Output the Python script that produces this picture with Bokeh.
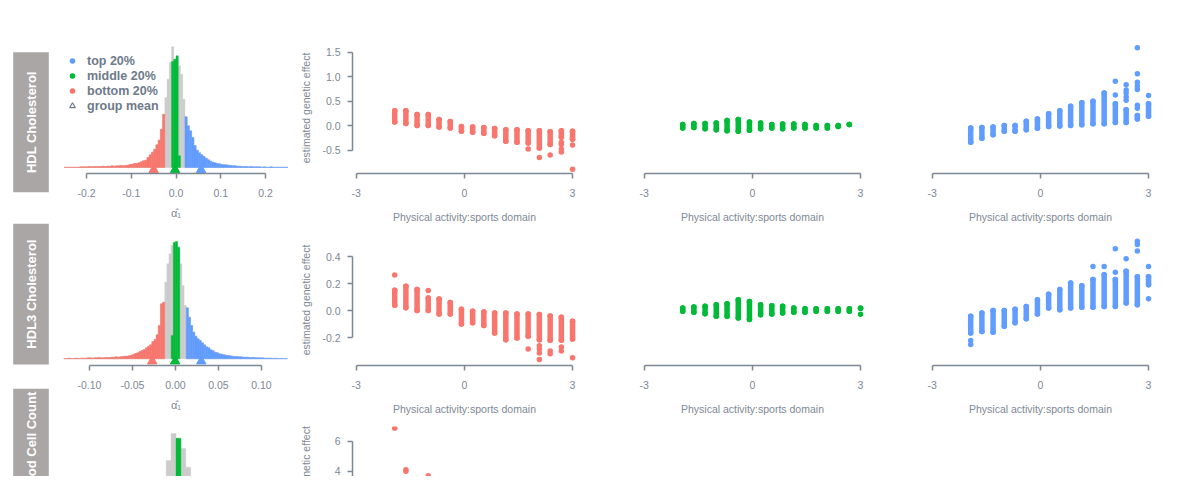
from math import pi
from bokeh.plotting import figure
from bokeh.layouts import row, column
from bokeh.models import Range1d, FixedTicker, LinearAxis, Legend, LegendItem
from bokeh.core.properties import value
from bokeh.embed import file_html
from bokeh.resources import INLINE

# ---------------- data ----------------
trait_labels = ["HDL Cholesterol", "HDL3 Cholesterol", "od Cell Count"]
group_labels = ["top 20%", "middle 20%", "bottom 20%", "group mean"]
hist_xlabel = "\u03b1\u0302\u2081"
scatter_xlabel = "Physical activity:sports domain"
scatter_ylabel = "estimated genetic effect"
scatter_ylabel_row3 = "netic effect"

hist1_ticks = [-0.2, -0.1, 0.0, 0.1, 0.2]
hist1_tick_labels = ["-0.2", "-0.1", "0.0", "0.1", "0.2"]
hist2_ticks = [-0.1, -0.05, 0.0, 0.05, 0.1]
hist2_tick_labels = ["-0.10", "-0.05", "0.00", "0.05", "0.10"]
x_ticks = [-3, 0, 3]
x_tick_labels = ["-3", "0", "3"]
y1_ticks = [-0.5, 0.0, 0.5, 1.0, 1.5]
y1_tick_labels = ["-0.5", "0.0", "0.5", "1.0", "1.5"]
y2_ticks = [-0.2, 0.0, 0.2, 0.4]
y2_tick_labels = ["-0.2", "0.0", "0.2", "0.4"]
y3_ticks = [2, 4, 6]
y3_tick_labels = ["2", "4", "6"]

# histogram of alpha-hat, HDL cholesterol (bin width 0.005 from -0.25)
hist1_start, hist1_width = -0.25, 0.005
hist1_counts = [1, 1, 1, 1, 1, 1, 1, 2,
                2, 2, 2, 3, 2, 3, 3, 3, 3, 4, 3, 4,
                4, 5, 4, 5, 5, 6, 5, 6, 7,
                9, 10, 12, 12, 14,
                17, 20, 22,
                30, 38, 46, 55, 68, 82, 115, 160,
                210, 265, 315, 362, 320, 330, 305, 280, 205,
                152, 125, 110, 90, 66, 52, 44, 38, 33, 28, 23, 19, 16, 14, 12, 11, 9, 8, 8, 7, 6, 5, 5, 4, 4, 3, 3,
                3, 2, 3, 2, 2, 2, 2, 1, 2, 1, 1, 2, 1, 1, 1, 1, 1, 1, 1]
hist1_bottom_cut = -0.025
hist1_top_cut = 0.02
hist1_mid_start = -0.01
hist1_mid_counts = [318, 325, 335, 35]
hist1_means = [-0.05, -0.002, 0.056]          # bottom, middle, top

# histogram of alpha-hat, HDL3 cholesterol (bin width 0.0025 from -0.13)
hist2_start, hist2_width = -0.13, 0.0025
hist2_counts = [1, 1, 2, 1, 1, 2, 2, 1, 2, 2, 2,
                3, 3, 2, 3, 3, 4, 3, 3, 4, 4, 4,
                5, 5, 6, 5, 6,
                7, 8, 8, 9,
                11, 13, 16, 18, 22, 25, 28, 33, 38, 42, 52, 58, 72, 100, 165, 170,
                230, 285, 315,
                340, 345, 340, 320,
                285, 220, 160,
                153, 125, 100, 80, 68, 60, 55, 48, 42, 36, 33, 27, 24, 20, 18, 15, 14, 12, 11, 10,
                9, 8, 7, 7, 6, 6, 5, 5, 5, 4, 4, 4, 3, 3, 3, 3, 2, 2, 2, 2, 1, 2, 1, 1, 1, 1, 1]
hist2_bottom_cut = -0.0125
hist2_top_cut = 0.0125
hist2_mid_start = -0.005
hist2_mid_counts = [70, 350, 352, 335]
hist2_means = [-0.027, -0.0004, 0.030]

# histogram of alpha-hat, third trait (only its top is visible)
hist3_start, hist3_width = -0.0165, 0.0057
hist3_counts = [216, 273, 354, 335, 309, 253, 218]
hist3_bottom_cut = -0.0165
hist3_top_cut = 0.03
hist3_mid_start = -0.0051
hist3_mid_counts = [222, 340]

# exposure levels (standardised physical activity)
exposure = [-1.93, -1.62, -1.31, -1.00, -0.70, -0.39, -0.08, 0.23, 0.54, 0.84,
            1.15, 1.46, 1.77, 2.08, 2.38, 2.69, 3.00]

# HDL cholesterol: range of estimated genetic effects per exposure level
hdl_bottom_hi = [0.31, 0.31, 0.23, 0.23, 0.13, 0.09, -0.01, -0.02, -0.03, -0.05, -0.08, -0.08, -0.10, -0.10, -0.12, -0.10, -0.11]
hdl_bottom_lo = [0.08, 0.05, 0.01, 0.01, -0.02, -0.04, -0.11, -0.13, -0.15, -0.20, -0.31, -0.33, -0.35, -0.45, -0.38, -0.23, -0.27]
hdl_bottom_extra_x = [1.77, 2.08, 2.38, 2.69, 2.69, 2.69, 2.69, 3.00, 3.00]
hdl_bottom_extra_y = [-0.47, -0.64, -0.59, -0.33, -0.38, -0.47, -0.53, -0.39, -0.88]

hdl_middle_hi = [0.03, 0.05, 0.05, 0.06, 0.11, 0.13, 0.08, 0.06, 0.03, 0.04, 0.04, 0.03, 0.01, 0.01, 0.01, 0.03]
hdl_middle_lo = [-0.04, -0.03, -0.06, -0.08, -0.10, -0.11, -0.09, -0.06, -0.04, -0.06, -0.04, -0.04, -0.04, -0.04, -0.01, 0.03]
hdl_middle_extra_x = []
hdl_middle_extra_y = []

hdl_top_hi = [-0.04, -0.03, -0.02, 0.01, 0.01, 0.095, 0.14, 0.25, 0.31, 0.40, 0.47, 0.50, 0.67, 0.45, 0.33, 0.21, 0.45]
hdl_top_lo = [-0.33, -0.25, -0.18, -0.11, -0.11, -0.08, -0.045, -0.01, 0.00, 0.01, 0.025, 0.045, 0.045, 0.07, 0.07, 0.14, 0.195]
hdl_top_extra_x = [2.08, 2.08, 2.38, 2.38, 2.38, 2.38, 2.38, 2.69, 2.69, 2.69, 2.69, 2.69, 2.69, 2.69, 3.00]
hdl_top_extra_y = [0.91, 0.63, 0.84, 0.73, 0.67, 0.59, 0.52, 0.36, 0.42, 0.74, 0.81, 0.89, 1.06, 1.59, 0.62]

# HDL3 cholesterol
hdl3_bottom_hi = [0.15, 0.18, 0.155, 0.093, 0.085, 0.06, 0.01, -0.006, -0.011, -0.018, -0.018, -0.026, -0.026, -0.03, -0.04, -0.05, -0.08]
hdl3_bottom_lo = [0.04, 0.02, 0.0, 0.0, -0.026, -0.026, -0.10, -0.09, -0.11, -0.167, -0.216, -0.204, -0.19, -0.216, -0.22, -0.22, -0.21]
hdl3_bottom_extra_x = [-1.93, -1.00, 1.77, 2.08, 2.08, 2.08, 2.08, 2.38, 2.38, 2.69, 2.69, 3.00]
hdl3_bottom_extra_y = [0.264, 0.148, -0.284, -0.26, -0.285, -0.315, -0.363, -0.30, -0.32, -0.27, -0.30, -0.35]

hdl3_middle_hi = [0.018, 0.026, 0.031, 0.043, 0.05, 0.08, 0.067, 0.043, 0.036, 0.031, 0.018, 0.013, 0.013, 0.013, 0.013, 0.013, 0.017]
hdl3_middle_lo = [-0.006, -0.013, -0.023, -0.043, -0.043, -0.055, -0.067, -0.031, -0.026, -0.019, -0.013, -0.013, -0.006, -0.006, -0.006, -0.006, 0.017]
hdl3_middle_extra_x = [3.00]
hdl3_middle_extra_y = [-0.027]

hdl3_top_hi = [-0.043, -0.018, 0.0, 0.0, 0.01, 0.03, 0.08, 0.12, 0.155, 0.204, 0.184, 0.23, 0.265, 0.23, 0.29, 0.25, 0.25]
hdl3_top_lo = [-0.167, -0.155, -0.16, -0.117, -0.09, -0.06, -0.026, 0.018, 0.006, 0.018, 0.024, 0.024, 0.03, 0.03, 0.055, 0.043, 0.19]
hdl3_top_extra_x = [-1.93, -1.93, 1.46, 1.77, 2.08, 2.08, 2.38, 2.69, 2.69, 2.69, 3.00, 3.00]
hdl3_top_extra_y = [-0.222, -0.252, 0.326, 0.326, 0.457, 0.284, 0.383, 0.513, 0.489, 0.44, 0.326, 0.087]

# third trait, bottom group (visible points only)
rbc_bottom_x = [-1.93, -1.62, -1.62, -1.31, -1.00, -0.70]
rbc_bottom_y = [6.9, 4.1, 4.0, 3.5, 3.7, 3.3]

# ---------------- style ----------------
RED, GREEN, BLUE = "#F8766D", "#00BA38", "#619CFF"
HIST_GRAY = "#CCCCCC"
BOX_GRAY = "#A9A6A5"
AXIS_COL = "#7E8794"
TXT_COL = "#7E8794"
LEG_COL = "#6E7A8A"
FONT = "Liberation Sans"
DOT = 5.5
NAN = float("nan")

LAB_W, HIST_W, SC1_W, SC_W = 56, 239, 293, 288


def make_fig(w, h, xr, yr, top, bottom, left, right):
    p = figure(width=w, height=h, x_range=Range1d(*xr), y_range=Range1d(*yr),
               output_backend="svg", toolbar_location=None,
               x_axis_location=None, y_axis_location=None,
               min_border_top=top, min_border_bottom=bottom,
               min_border_left=left, min_border_right=right,
               outline_line_color=None, background_fill_color="white",
               border_fill_color="white")
    p.xgrid.visible = False
    p.ygrid.visible = False
    return p


def style_axis(ax, ticks, labels, bounds, title=None):
    ax.ticker = FixedTicker(ticks=ticks)
    ax.major_label_overrides = dict(zip(ticks, labels))
    ax.bounds = bounds
    ax.axis_line_color = AXIS_COL
    ax.axis_line_width = 1.5
    ax.major_tick_line_color = AXIS_COL
    ax.major_tick_line_width = 1.5
    ax.major_tick_in = 0
    ax.major_tick_out = 5
    ax.minor_tick_line_color = None
    ax.major_label_text_color = TXT_COL
    ax.major_label_text_font = FONT
    ax.major_label_text_font_size = "10.5px"
    ax.major_label_standoff = 10
    if title is not None:
        ax.axis_label = title
        ax.axis_label_text_font = FONT
        ax.axis_label_text_font_style = "normal"
        ax.axis_label_text_font_size = "10.5px"
        ax.axis_label_text_color = TXT_COL
        ax.axis_label_standoff = 11


def draw_hist(p, start, width, counts, bottom_cut, top_cut, mid_start, mid_counts, means=None):
    n = len(counts)
    left = [start + i * width for i in range(n)]
    right = [l + width for l in left]
    p.quad(left=left, right=right, bottom=0, top=counts,
           fill_color=HIST_GRAY, line_color=HIST_GRAY, line_width=0.4)
    ri = [i for i in range(n) if right[i] <= bottom_cut + 1e-9]
    bi = [i for i in range(n) if left[i] >= top_cut - 1e-9]
    for idx, col in ((ri, RED), (bi, BLUE)):
        if idx:
            p.quad(left=[left[i] for i in idx], right=[right[i] for i in idx], bottom=0,
                   top=[counts[i] for i in idx], fill_color=col, line_color=col, line_width=0.4)
    ml = [mid_start + j * width for j in range(len(mid_counts))]
    p.quad(left=ml, right=[l + width for l in ml], bottom=0, top=mid_counts,
           fill_color=GREEN, line_color=GREEN, line_width=0.4)
    if means is not None:
        p.scatter(x=means, y=[-7, -7, -7], marker="triangle", size=9.5,
                  color=[RED, GREEN, BLUE])


def draw_cols(p, lo, hi, ex_x, ex_y, color):
    xs = exposure[:len(lo)]
    p.segment(x0=xs, y0=lo, x1=xs, y1=hi, line_color=color, line_width=DOT, line_cap="round")
    p.scatter(x=xs + xs, y=lo + hi, size=DOT, color=color, line_width=0)
    if ex_x:
        p.scatter(x=ex_x, y=ex_y, size=DOT, color=color, line_width=0)


# ---------------- label column ----------------
lab = figure(width=LAB_W, height=476, x_range=Range1d(0, 56), y_range=Range1d(476, 0),
             output_backend="svg", toolbar_location=None, x_axis_location=None,
             y_axis_location=None, min_border=0, outline_line_color=None)
lab.xgrid.visible = False
lab.ygrid.visible = False
box_tops = [51.7, 223.3, 388.3]
box_bottoms = [191.7, 364.0, 529.0]
lab.quad(left=12.7, right=48.3, top=box_tops, bottom=box_bottoms,
         fill_color=BOX_GRAY, line_color=None)
lab.text(x=[30.6, 30.6, 30.6], y=[121.7, 293.6, 433.5], text=trait_labels, angle=pi / 2,
         text_align="center", text_baseline="middle", text_color="white",
         text_font=value(FONT), text_font_style="bold", text_font_size="13px")

# ---------------- row geometry ----------------
rows = [
    dict(h=228, top=42, bottom=55),
    dict(h=192, top=6, bottom=55),
    dict(h=56, top=6, bottom=0),
]
sc_x = (-3.1, 3.11)
sc_y = [(-0.968, 1.697), (-0.407, 0.563), (3.643, 7.01)]
hist_x = [(-0.2514, 0.2514), (-0.1302, 0.1314), (-0.1302, 0.1314)]
hist_y = [(-18, 375), (-20, 373), (225, 375)]

# ---------------- histograms ----------------
h1 = make_fig(HIST_W, rows[0]["h"], hist_x[0], hist_y[0], rows[0]["top"], rows[0]["bottom"], 7, 7)
draw_hist(h1, hist1_start, hist1_width, hist1_counts, hist1_bottom_cut, hist1_top_cut,
          hist1_mid_start, hist1_mid_counts, hist1_means)
ax = LinearAxis()
style_axis(ax, hist1_ticks, hist1_tick_labels, (-0.2, 0.2), hist_xlabel)
ax.axis_label_text_font_size = "11px"
ax.axis_label_standoff = 7
h1.add_layout(ax, "below")

r_top = h1.scatter(x=[NAN], y=[NAN], marker="circle", color=BLUE, line_width=0)
r_mid = h1.scatter(x=[NAN], y=[NAN], marker="circle", color=GREEN, line_width=0)
r_bot = h1.scatter(x=[NAN], y=[NAN], marker="circle", color=RED, line_width=0)
r_mean = h1.scatter(x=[NAN], y=[NAN], marker="triangle", fill_alpha=0,
                    line_color=LEG_COL, line_width=1.1)
legend = Legend(items=[LegendItem(label=group_labels[0], renderers=[r_top]),
                       LegendItem(label=group_labels[1], renderers=[r_mid]),
                       LegendItem(label=group_labels[2], renderers=[r_bot]),
                       LegendItem(label=group_labels[3], renderers=[r_mean])],
                location=(2, 60), border_line_color=None, background_fill_alpha=0,
                label_text_font=FONT, label_text_font_style="bold",
                label_text_font_size="12.5px", label_text_color=LEG_COL,
                glyph_width=14, glyph_height=15, label_height=15, label_standoff=8,
                spacing=0, padding=0, margin=0)
h1.add_layout(legend)

h2 = make_fig(HIST_W, rows[1]["h"], hist_x[1], hist_y[1], rows[1]["top"], rows[1]["bottom"], 7, 7)
draw_hist(h2, hist2_start, hist2_width, hist2_counts, hist2_bottom_cut, hist2_top_cut,
          hist2_mid_start, hist2_mid_counts, hist2_means)
ax = LinearAxis()
style_axis(ax, hist2_ticks, hist2_tick_labels, (-0.1, 0.1), hist_xlabel)
ax.axis_label_text_font_size = "11px"
ax.axis_label_standoff = 7
h2.add_layout(ax, "below")

h3 = make_fig(HIST_W, rows[2]["h"], hist_x[2], hist_y[2], rows[2]["top"], rows[2]["bottom"], 7, 7)
draw_hist(h3, hist3_start, hist3_width, hist3_counts, hist3_bottom_cut, hist3_top_cut,
          hist3_mid_start, hist3_mid_counts)

# ---------------- scatter panels ----------------
def scatter_panel(ri, yticks, ylabels, ybounds, series, color, with_y, with_x=True,
                  ytitle=scatter_ylabel, ytitle_standoff=7):
    g = rows[ri]
    w, left = (SC1_W, 57) if with_y else (SC_W, 52)
    p = make_fig(w, g["h"], sc_x, sc_y[ri], g["top"], g["bottom"], left, 12)
    if series is not None:
        draw_cols(p, *series, color)
    if with_x:
        ax = LinearAxis()
        style_axis(ax, x_ticks, x_tick_labels, (-3, 3), scatter_xlabel)
        p.add_layout(ax, "below")
    if with_y:
        ay = LinearAxis()
        style_axis(ay, yticks, ylabels, ybounds, ytitle)
        ay.major_label_standoff = 7
        ay.axis_label_standoff = ytitle_standoff
        p.add_layout(ay, "left")
    return p


s1r = scatter_panel(0, y1_ticks, y1_tick_labels, (-0.5, 1.5),
                    (hdl_bottom_lo, hdl_bottom_hi, hdl_bottom_extra_x, hdl_bottom_extra_y), RED, True)
s1g = scatter_panel(0, None, None, None,
                    (hdl_middle_lo, hdl_middle_hi, hdl_middle_extra_x, hdl_middle_extra_y), GREEN, False)
s1b = scatter_panel(0, None, None, None,
                    (hdl_top_lo, hdl_top_hi, hdl_top_extra_x, hdl_top_extra_y), BLUE, False)

s2r = scatter_panel(1, y2_ticks, y2_tick_labels, (-0.2, 0.4),
                    (hdl3_bottom_lo, hdl3_bottom_hi, hdl3_bottom_extra_x, hdl3_bottom_extra_y), RED, True)
s2g = scatter_panel(1, None, None, None,
                    (hdl3_middle_lo, hdl3_middle_hi, hdl3_middle_extra_x, hdl3_middle_extra_y), GREEN, False)
s2b = scatter_panel(1, None, None, None,
                    (hdl3_top_lo, hdl3_top_hi, hdl3_top_extra_x, hdl3_top_extra_y), BLUE, False)

s3r = scatter_panel(2, y3_ticks, y3_tick_labels, (2, 6), None, RED, True, with_x=False,
                    ytitle=scatter_ylabel_row3, ytitle_standoff=20)
s3r.scatter(x=rbc_bottom_x, y=rbc_bottom_y, size=DOT, color=RED, line_width=0)

layout = row(lab, column(row(h1, s1r, s1g, s1b), row(h2, s2r, s2g, s2b), row(h3, s3r)))

open("out.html", "w").write(file_html(layout, INLINE, "chart"))
